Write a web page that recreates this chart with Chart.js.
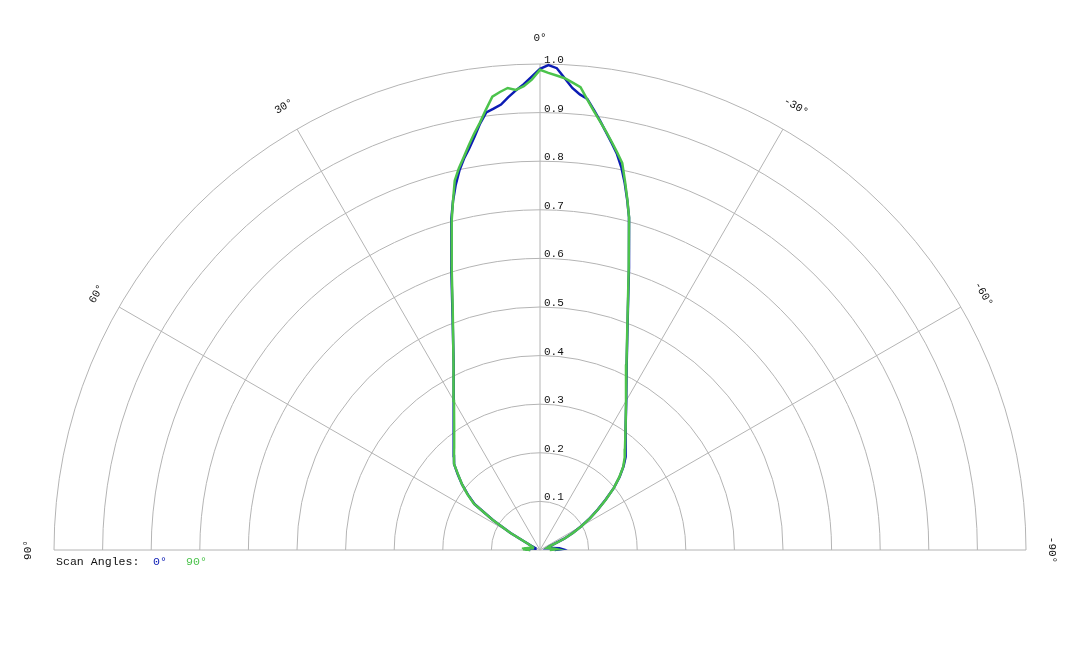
<!DOCTYPE html>
<html>
<head>
<meta charset="utf-8">
<script src="https://cdn.jsdelivr.net/npm/chart.js@4.4.1/dist/chart.umd.min.js"></script>
<style>
  html, body { margin: 0; padding: 0; background: #fff; }
  #wrap { width: 1080px; height: 648px; position: relative; }
</style>
</head>
<body>
<div id="wrap"><canvas id="polar"></canvas></div>
<script>
// measurement angles in degrees (positive = left side of the plot)
const angles = [90, 87.5, 85, 80, 75, 70, 65, 62.5, 60, 57.5, 55, 52.5, 50, 47.5, 45, 42.5, 40, 35, 30, 25, 20, 17.5, 15,
  14, 13, 12, 11, 10, 9, 8, 7, 6, 5, 4, 3, 2, 1, 0,
  -1, -2, -3, -4, -5, -6, -7, -8, -9, -10, -11, -12, -13, -14,
  -15, -17.5, -20, -25, -30, -35, -40, -42.5, -45, -47.5, -50, -52.5, -55, -57.5, -60, -62.5, -65, -70, -75, -80, -85, -87.5, -90];

// relative intensity, scan angle 0°
const scan0 = [0.02, 0.03, 0.03, 0.02, 0.01, 0.01, 0.02, 0.028, 0.07, 0.115, 0.164, 0.187, 0.209, 0.229, 0.25, 0.262, 0.276, 0.309, 0.355, 0.422, 0.527, 0.607, 0.705,
  0.74, 0.771, 0.798, 0.82, 0.839, 0.861, 0.886, 0.907, 0.913, 0.92, 0.934, 0.947, 0.959, 0.974, 0.99,
  0.998, 0.992, 0.972, 0.953, 0.941, 0.933, 0.912, 0.891, 0.87, 0.85, 0.83, 0.805, 0.775, 0.742,
  0.708, 0.609, 0.529, 0.422, 0.355, 0.307, 0.275, 0.26, 0.243, 0.222, 0.198, 0.17, 0.145, 0.122, 0.098, 0.076, 0.055, 0.02, 0.015, 0.025, 0.04, 0.045, 0.03];

// relative intensity, scan angle 90°
const scan90 = [0.02, 0.035, 0.035, 0.025, 0.015, 0.015, 0.02, 0.028, 0.071, 0.116, 0.166, 0.188, 0.209, 0.228, 0.25, 0.262, 0.275, 0.308, 0.354, 0.421, 0.525, 0.604, 0.702,
  0.74, 0.78, 0.803, 0.823, 0.845, 0.867, 0.888, 0.913, 0.938, 0.946, 0.953, 0.948, 0.955, 0.968, 0.988,
  0.982, 0.977, 0.972, 0.964, 0.956, 0.932, 0.91, 0.89, 0.871, 0.852, 0.833, 0.814, 0.778, 0.743,
  0.708, 0.607, 0.528, 0.421, 0.354, 0.307, 0.272, 0.258, 0.242, 0.221, 0.198, 0.171, 0.146, 0.123, 0.099, 0.077, 0.056, 0.02, 0.015, 0.02, 0.03, 0.035, 0.02];

const ringTicks = [0.1, 0.2, 0.3, 0.4, 0.5, 0.6, 0.7, 0.8, 0.9, 1.0];
const angleTicks = [90, 60, 30, 0, -30, -60, -90];
const scanLabels = ['0°', '90°'];

const BLUE = '#0c1cb4';
const GREEN = '#4cc34c';
const MONO = '"Liberation Mono", "DejaVu Sans Mono", monospace';

function toXY(vals) {
  return angles.map((a, i) => {
    const t = a * Math.PI / 180;
    return { x: -vals[i] * Math.sin(t), y: vals[i] * Math.cos(t) };
  });
}

// pixels per unit of intensity, and where the pole sits in the canvas
const UNIT = 486, W = 1080, H = 648, CX = 540, CY = 550;

const polarGrid = {
  id: 'polarGrid',
  beforeDatasetsDraw(chart) {
    const { ctx, scales: { x, y } } = chart;
    const cx = x.getPixelForValue(0), cy = y.getPixelForValue(0);
    const u = x.getPixelForValue(1) - cx;
    const rMax = u * ringTicks[ringTicks.length - 1];
    ctx.save();
    ctx.strokeStyle = '#b4b4b4';
    ctx.lineWidth = 1;
    ringTicks.forEach(t => {
      ctx.beginPath();
      ctx.arc(cx, cy, t * u, Math.PI, 2 * Math.PI);
      ctx.stroke();
    });
    angleTicks.forEach(a => {
      const t = a * Math.PI / 180;
      ctx.beginPath();
      ctx.moveTo(cx, cy);
      ctx.lineTo(cx - rMax * Math.sin(t), cy - rMax * Math.cos(t));
      ctx.stroke();
    });

    ctx.fillStyle = '#111';
    ctx.font = '11px ' + MONO;
    ctx.textAlign = 'left';
    ctx.textBaseline = 'alphabetic';
    ringTicks.forEach(t => {
      ctx.fillText(t.toFixed(1), cx + 4, cy - t * u - 1);
    });

    const rl = rMax + 26;
    ctx.textAlign = 'center';
    ctx.textBaseline = 'middle';
    angleTicks.forEach(a => {
      const t = a * Math.PI / 180;
      ctx.save();
      ctx.translate(cx - rl * Math.sin(t), cy - rl * Math.cos(t));
      ctx.rotate(-t);
      ctx.fillText(a + '°', 0, 0);
      ctx.restore();
    });

    // scan angle key under the left end of the baseline
    ctx.font = '11.6px ' + MONO;
    ctx.textAlign = 'left';
    ctx.fillStyle = '#111';
    let lx = cx - rMax + 2;
    const ly = cy + 12;
    ctx.fillText('Scan Angles:', lx, ly);
    lx = cx - rMax + 99;
    chart.data.datasets.forEach(ds => {
      ctx.fillStyle = ds.borderColor;
      ctx.fillText(ds.label, lx, ly);
      lx += 33;
    });
    ctx.restore();
  }
};

new Chart(document.getElementById('polar'), {
  type: 'scatter',
  data: {
    datasets: [
      { label: scanLabels[0], data: toXY(scan0), borderColor: BLUE, order: 1 },
      { label: scanLabels[1], data: toXY(scan90), borderColor: GREEN, order: 0 }
    ]
  },
  options: {
    responsive: true,
    maintainAspectRatio: false,
    animation: false,
    layout: { padding: 0 },
    showLine: true,
    elements: {
      point: { radius: 0, hoverRadius: 0 },
      line: { borderWidth: 2.5, tension: 0, fill: false }
    },
    scales: {
      x: { type: 'linear', display: false, min: -CX / UNIT, max: (W - CX) / UNIT },
      y: { type: 'linear', display: false, min: -(H - CY) / UNIT, max: CY / UNIT }
    },
    plugins: {
      legend: { display: false },
      tooltip: { enabled: false }
    }
  },
  plugins: [polarGrid]
});
</script>
</body>
</html>
